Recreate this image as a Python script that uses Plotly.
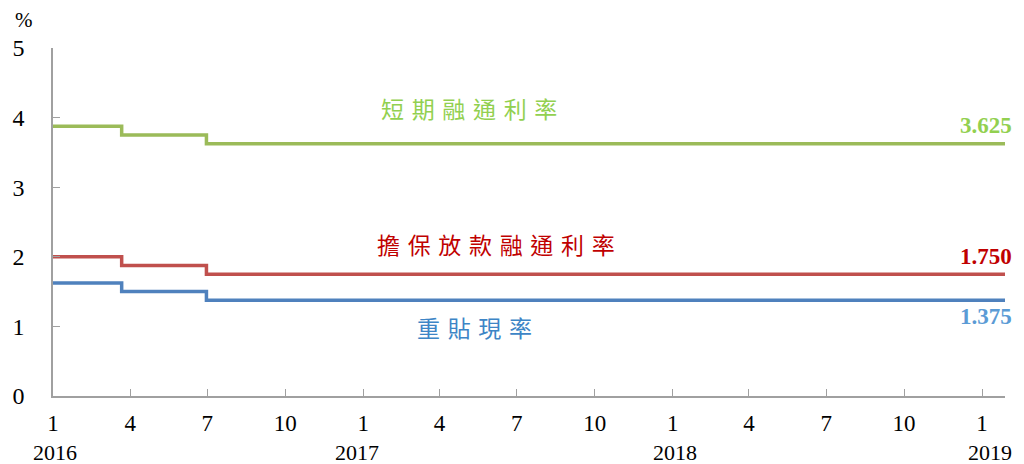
import plotly.graph_objects as go

# Policy rate change dates (step points) and series levels, in percent
dates = ["2016-01-01", "2016-03-22", "2016-06-30", "2019-01-28"]
short_term = [3.875, 3.75, 3.625, 3.625]     # 短期融通利率
secured = [2.0, 1.875, 1.75, 1.75]           # 擔保放款融通利率
discount = [1.625, 1.5, 1.375, 1.375]        # 重貼現率

tick_dates = ["2016-01-01", "2016-04-01", "2016-07-01", "2016-10-01",
              "2017-01-01", "2017-04-01", "2017-07-01", "2017-10-01",
              "2018-01-01", "2018-04-01", "2018-07-01", "2018-10-01",
              "2019-01-01"]
tick_text = ["1", "4", "7", "10", "1", "4", "7", "10", "1", "4", "7", "10", "1"]
year_labels = ["2016", "2017", "2018", "2019"]
year_dates = ["2016-01-01", "2017-01-01", "2018-01-01", "2019-01-01"]

GREEN, RED, BLUE = "#9BBB59", "#C0504D", "#4F81BD"
SERIF = "Liberation Serif, Times New Roman, serif"
CJK = "Noto Sans CJK TC"

fig = go.Figure()
for vals, color in [(short_term, GREEN), (secured, RED), (discount, BLUE)]:
    fig.add_trace(go.Scatter(x=dates, y=vals, mode="lines", line_shape="hv",
                             line=dict(color=color, width=3.5),
                             showlegend=False, hoverinfo="skip"))

axis_color = "#A0A0A0"
fig.update_xaxes(type="date", range=["2016-01-01", "2019-01-28"],
                 tickvals=tick_dates, ticktext=tick_text,
                 ticks="inside", ticklen=7, tickcolor=axis_color,
                 showline=True, linecolor=axis_color, linewidth=1.5,
                 showgrid=False, zeroline=False, ticklabelstandoff=6,
                 tickfont=dict(family=SERIF, size=23, color="black"))
fig.update_yaxes(range=[0, 5], tickvals=[0, 1, 2, 3, 4, 5],
                 ticks="inside", ticklen=7, tickcolor=axis_color,
                 showline=True, linecolor=axis_color, linewidth=1.5,
                 showgrid=False, zeroline=False, ticklabelstandoff=22,
                 tickfont=dict(family=SERIF, size=24, color="black"))

ann = []
# year labels beneath the month ticks
for yr, d, dx in zip(year_labels, year_dates, [2, -6, 2, 8]):
    ann.append(dict(x=d, y=-0.161, xref="x", yref="paper", text=yr, showarrow=False,
                    xshift=dx, yanchor="middle", xanchor="center",
                    font=dict(family=SERIF, size=22, color="black")))
# unit label
ann.append(dict(x=-0.030, y=1.08, xref="paper", yref="paper", text="%", showarrow=False,
                xanchor="center", yanchor="middle",
                font=dict(family=SERIF, size=21, color="black")))

# series names
sp = "\u2004"
for name, x, y, color in [("短期融通利率", "2017-05-06", 4.14, "#92D050"),
                          ("擔保放款融通利率", "2017-06-07", 2.18, "#C00000"),
                          ("重貼現率", "2017-05-12", 0.99, "#3D85C6")]:
    ann.append(dict(x=x, y=y, xref="x", yref="y", text=sp.join(name), showarrow=False,
                    xanchor="center", yanchor="middle",
                    font=dict(family=CJK, size=23, color=color)))

# end-of-period values
for val, y, color in [(3.625, 3.88, "#92D050"), (1.750, 2.0, "#C00000"), (1.375, 1.14, "#5B9BD5")]:
    ann.append(dict(x="2019-01-06", y=y, xref="x", yref="y", text=f"{val:.3f}",
                    showarrow=False, xanchor="center", yanchor="middle",
                    font=dict(family=SERIF, size=23, color=color, weight="bold")))

fig.update_layout(width=1024, height=464, margin=dict(l=51, r=19, t=48, b=68),
                  paper_bgcolor="white", plot_bgcolor="white", annotations=ann)

fig.write_html("out.html")
